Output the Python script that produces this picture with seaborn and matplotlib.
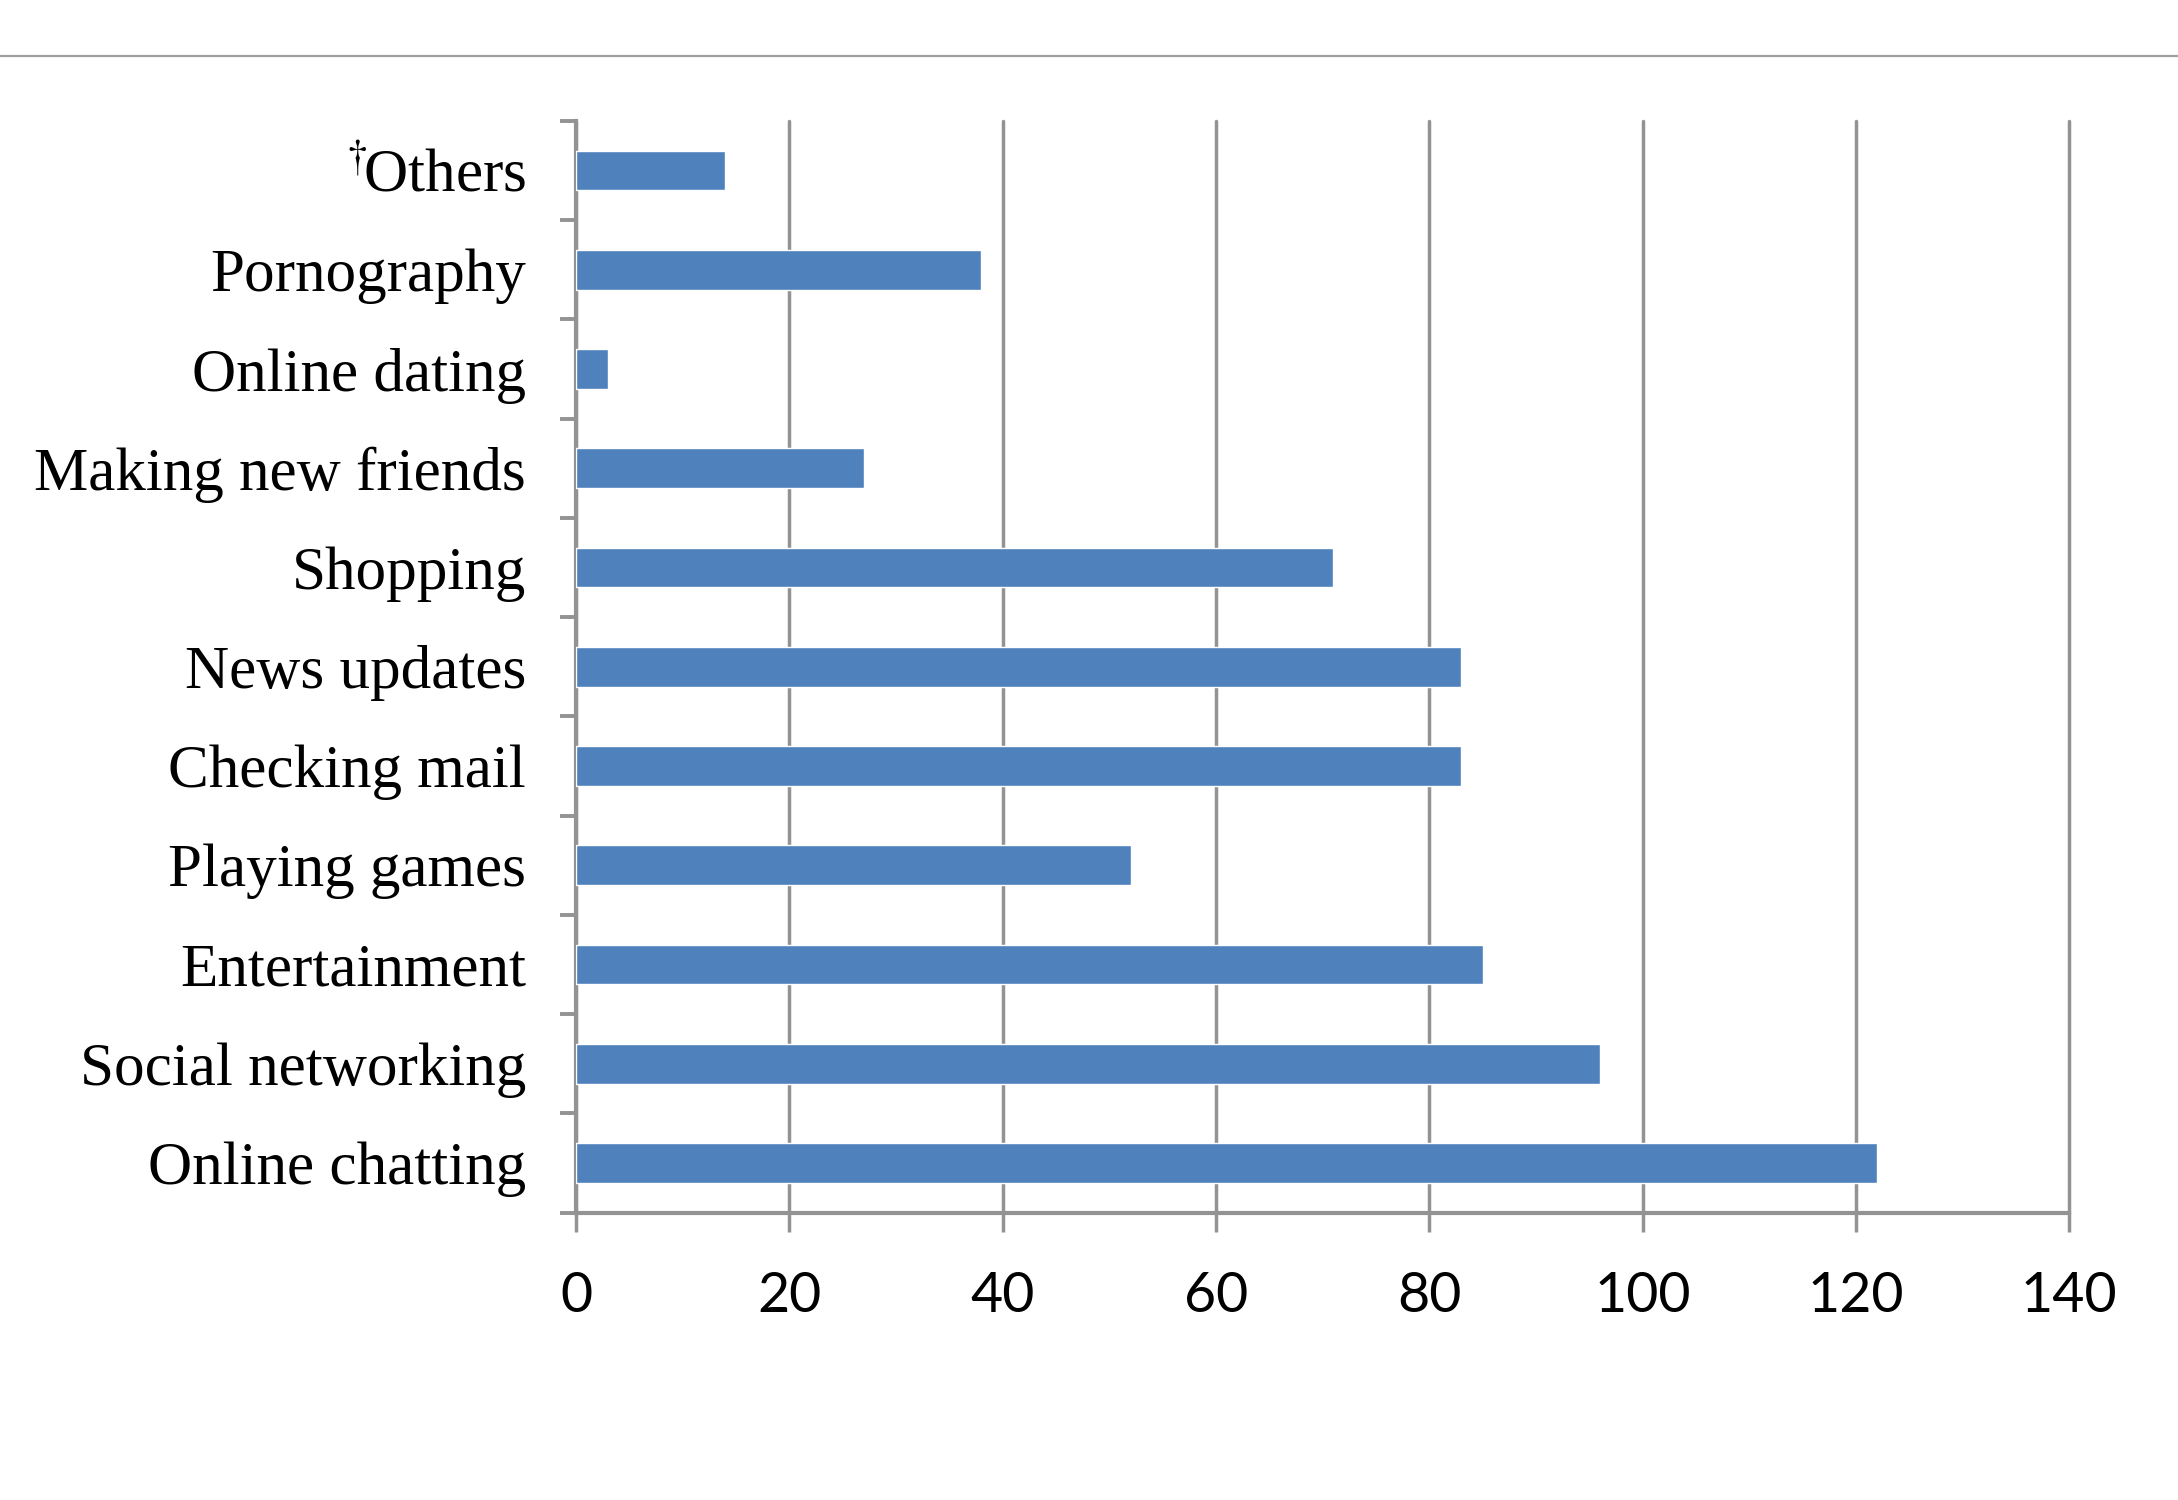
import matplotlib
matplotlib.use("Agg")
from matplotlib import pyplot as plt
from matplotlib.lines import Line2D
import numpy as np
import pandas as pd
import seaborn as sns

# Internet use purposes, listed top to bottom as in the chart
categories = [
    r"$^{\dagger}\!$Others",
    "Pornography",
    "Online dating",
    "Making new friends",
    "Shopping",
    "News updates",
    "Checking mail",
    "Playing games",
    "Entertainment",
    "Social networking",
    "Online chatting",
]
counts = [14, 38, 3, 27, 71, 83, 83, 52, 85, 96, 122]
x_ticks = [0, 20, 40, 60, 80, 100, 120, 140]

BAR_COLOR = "#4f81bd"
GRID_COLOR = "#939393"


def main():
    sns.set_style("white")
    plt.rcParams["mathtext.fontset"] = "stix"

    df = pd.DataFrame({"Purpose": categories, "Count": counts})

    fig = plt.figure(figsize=(21.78, 15), dpi=100)
    ax = fig.add_axes([0.2645, 0.1916, 0.6855, 0.7278])

    sns.barplot(data=df, y="Purpose", x="Count", orient="h", color=BAR_COLOR,
                width=0.4, saturation=1, ax=ax, zorder=3)

    # Axis limits and ticks
    ax.set_xlim(0, 140)
    ax.set_ylim(len(categories) - 0.5, -0.5)
    ax.set_xticks(x_ticks)
    ax.set_xticklabels([str(t) for t in x_ticks], family="Lato", fontsize=40)
    ax.set_yticks(range(len(categories)))
    ax.set_yticklabels(categories, family="Liberation Serif", fontsize=44)
    ax.set_yticks(np.arange(-0.5, len(categories), 1), minor=True)
    ax.tick_params(axis="y", which="major", length=0, pad=36, labelcolor="black")
    ax.tick_params(axis="y", which="minor", length=11.5, width=2.8, color=GRID_COLOR, direction="out", left=True)
    ax.tick_params(axis="x", which="major", length=14, width=2.5, color=GRID_COLOR, direction="out",
                   bottom=True, pad=28, labelcolor="black")
    ax.set_xlabel("")
    ax.set_ylabel("")

    # Vertical gridlines, Excel look
    ax.grid(axis="x", color=GRID_COLOR, linewidth=2.5, zorder=0)
    for gl in ax.get_xgridlines():
        gl.set_clip_on(False)
    ax.set_axisbelow(True)
    for side in ["top", "right"]:
        ax.spines[side].set_visible(False)
    for side in ["left", "bottom"]:
        ax.spines[side].set_color(GRID_COLOR)
        ax.spines[side].set_linewidth(3)

    # Thin rule across the top of the page
    fig.add_artist(Line2D([0, 1], [0.963, 0.963], transform=fig.transFigure, color="#a0a0a0", linewidth=1.6))

    fig.savefig("out.png", dpi=100, facecolor="white")


if __name__ == "__main__":
    main()
